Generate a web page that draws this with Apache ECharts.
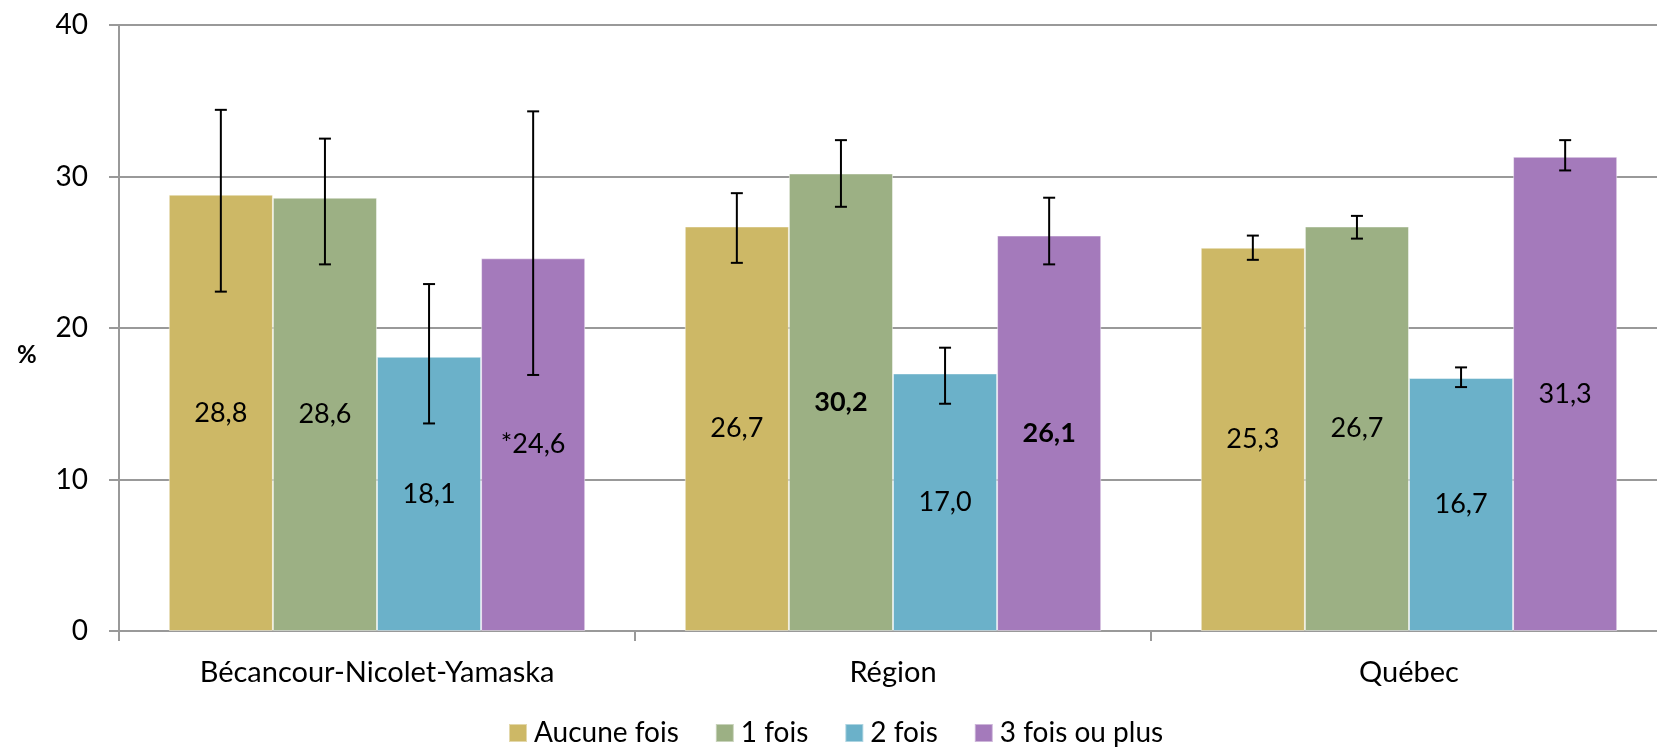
<!DOCTYPE html>
<html>
<head>
<meta charset="utf-8">
<script src="https://cdn.jsdelivr.net/npm/echarts@6/dist/echarts.min.js"></script>
<style>html,body{margin:0;padding:0;background:#fff;overflow:hidden;}#c{width:1667px;height:748px;}</style>
</head>
<body>
<div id="c"></div>
<script>
const categories = ['Bécancour-Nicolet-Yamaska', 'Région', 'Québec'];
const seriesNames = ['Aucune fois', '1 fois', '2 fois', '3 fois ou plus'];
const values = [
  [28.8, 26.7, 25.3],
  [28.6, 30.2, 26.7],
  [18.1, 17.0, 16.7],
  [24.6, 26.1, 31.3]
];
const errLow = [
  [22.4, 24.3, 24.5],
  [24.2, 28.0, 25.9],
  [13.7, 15.0, 16.1],
  [16.9, 24.2, 30.4]
];
const errHigh = [
  [34.4, 28.9, 26.1],
  [32.5, 32.4, 27.4],
  [22.9, 18.7, 17.4],
  [34.3, 28.6, 32.4]
];
const labelPrefix = [['', '', ''], ['', '', ''], ['', '', ''], ['*', '', '']];
const boldFlags = [[0, 0, 0], [0, 1, 0], [0, 0, 0], [0, 1, 0]];
const yTicks = [0, 10, 20, 30, 40];
const yAxisName = '%';

const colors = ['#CDB866', '#9CB084', '#6BB1C9', '#A47ABB'];
const FONT = 'Lato, "Open Sans", sans-serif';
const catGap = 0.193;

const chart = echarts.init(document.getElementById('c'), null, {renderer: 'canvas'});

const series = [];
seriesNames.forEach((name, si) => {
  series.push({
    name: name,
    type: 'bar',
    barGap: '0%',
    barCategoryGap: (catGap * 100) + '%',
    itemStyle: {color: colors[si], borderColor: 'rgba(255,255,255,0.45)', borderWidth: 1},
    data: values[si].map((v, ci) => ({
      value: v,
      label: {
        show: true,
        position: 'inside',
        formatter: labelPrefix[si][ci] + v.toFixed(1).replace('.', ','),
        fontWeight: boldFlags[si][ci] ? 'bold' : 'normal',
        color: '#000',
        fontSize: 27,
        fontFamily: FONT
      }
    }))
  });
});
seriesNames.forEach((name, si) => {
  series.push({
    name: 'err' + si,
    type: 'custom',
    z: 10,
    encode: {x: 0, y: [1, 2]},
    data: categories.map((c, ci) => [ci, errLow[si][ci], errHigh[si][ci]]),
    renderItem: function (params, api) {
      const ci = api.value(0);
      const lo = api.coord([ci, api.value(1)]);
      const hi = api.coord([ci, api.value(2)]);
      const band = api.size([1, 0])[0];
      const bw = band * (1 - catGap) / 4;
      const x = lo[0] + (si - 1.5) * bw;
      const cap = 6;
      const st = {stroke: '#000', lineWidth: 2};
      return {
        type: 'group',
        children: [
          {type: 'line', shape: {x1: x, y1: lo[1], x2: x, y2: hi[1]}, style: st},
          {type: 'line', shape: {x1: x - cap, y1: lo[1], x2: x + cap, y2: lo[1]}, style: st},
          {type: 'line', shape: {x1: x - cap, y1: hi[1], x2: x + cap, y2: hi[1]}, style: st}
        ]
      };
    }
  });
});

chart.setOption({
  animation: false,
  backgroundColor: '#fff',
  grid: {left: 119, top: 25, right: 0, bottom: 117, containLabel: false},
  graphic: [{
    type: 'text',
    left: 17,
    top: 343,
    style: {text: yAxisName, fontSize: 24, fontWeight: 'bold', fill: '#000', fontFamily: FONT}
  }],
  legend: {
    data: seriesNames,
    top: 714,
    left: 503,
    itemWidth: 18,
    itemHeight: 18,
    itemGap: 36,
    icon: 'rect',
    textStyle: {fontSize: 28, color: '#000', fontFamily: FONT, padding: [0, 0, 0, 2]}
  },
  xAxis: {
    type: 'category',
    data: categories,
    axisLine: {lineStyle: {color: '#999', width: 2}},
    axisTick: {show: true, length: 10, lineStyle: {color: '#999', width: 2}},
    axisLabel: {fontSize: 29, color: '#000', fontFamily: FONT, margin: 27}
  },
  yAxis: {
    type: 'value',
    min: yTicks[0],
    max: yTicks[yTicks.length - 1],
    interval: 10,
    axisLine: {show: true, lineStyle: {color: '#999', width: 2}},
    axisTick: {show: true, length: 10, lineStyle: {color: '#999', width: 2}},
    splitLine: {lineStyle: {color: '#999', width: 2}},
    axisLabel: {fontSize: 28, color: '#000', fontFamily: FONT, margin: 31}
  },
  series: series
});
</script>
</body>
</html>
